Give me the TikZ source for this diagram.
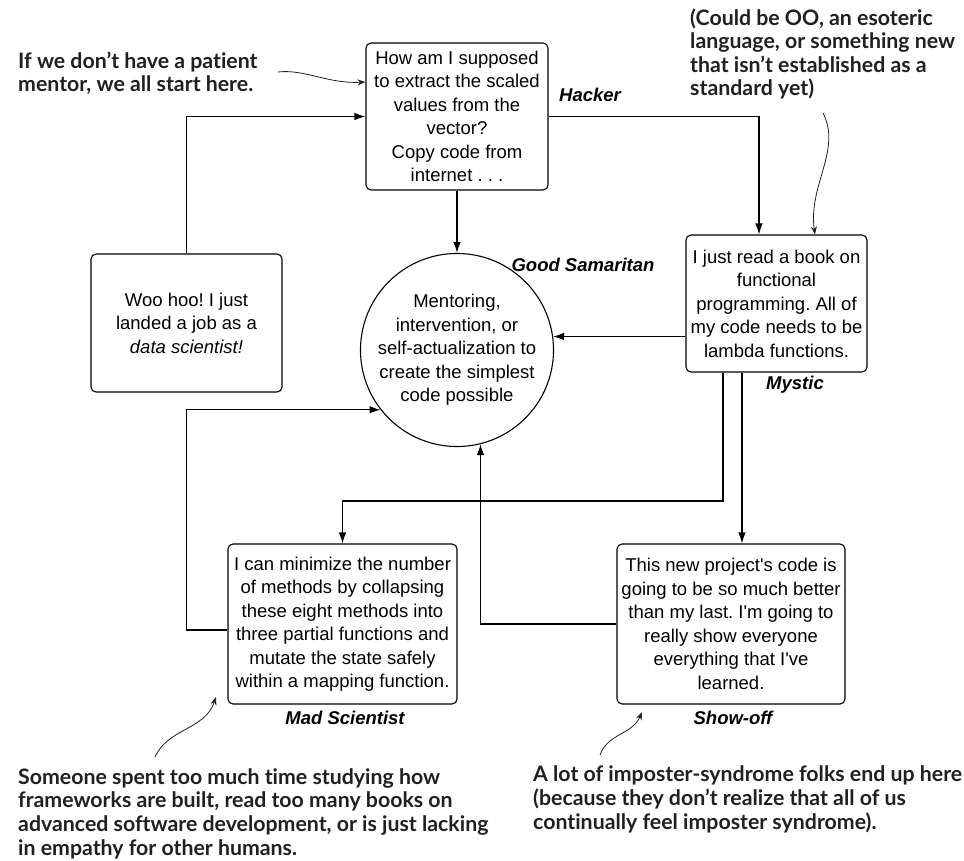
\documentclass[tikz,border=0pt]{standalone}
\usepackage{fontspec}
\setmainfont{Liberation Sans}
\newfontfamily\boxfont{Liberation Sans}
\newfontfamily\notefont[Ligatures={NoCommon,NoContextual}]{Lato}
\usetikzlibrary{arrows.meta,calc}
\definecolor{notegray}{HTML}{231F20}
\frenchspacing
\begin{document}
\begin{tikzpicture}[x=1pt,y=-1pt,
  box/.style={draw, line width=1.1pt, rounded corners=5pt, align=center,
    inner sep=0pt, font=\boxfont\fontsize{18.5}{23.5}\selectfont},
  role/.style={inner sep=0pt, font=\boxfont\fontsize{18.5}{22}\selectfont\bfseries\itshape},
  note/.style={inner sep=0pt, align=left, text=notegray,
    font=\notefont\bfseries\fontsize{21.3}{23.6}\selectfont},
  flow/.style={line width=1.1pt, -{Latex[length=11pt,width=7.5pt]}},
  pointer/.style={line width=0.8pt, draw=notegray, -{Stealth[length=8pt,width=6pt]}}]
\useasboundingbox (0,0) rectangle (964,861);

% stages of the journey
\node[box, minimum width=182pt, minimum height=147pt] (hacker) at (457,116.5)
  {How am I supposed\\to extract the scaled\\values from the\\vector?\\Copy code from\\internet . . .};
\node[box, minimum width=191pt, minimum height=138pt] (woo) at (186.5,323)
  {Woo hoo! I just\\landed a job as a\\\textit{data scientist!}};
\node[draw, circle, line width=1.1pt, minimum size=184pt, inner sep=0pt, align=center,
  font=\boxfont\fontsize{18.5}{23.5}\selectfont] (circ) at (457,350)
  {Mentoring,\\intervention, or\\self-actualization to\\create the simplest\\code possible};
\node[box, minimum width=181pt, minimum height=137pt] (mystic) at (776.5,303.5)
  {I just read a book on\\functional\\programming. All of\\my code needs to be\\lambda functions.};
\node[box, minimum width=229pt, minimum height=160pt] (mad) at (342.5,624)
  {I can minimize the number\\of methods by collapsing\\these eight methods into\\three partial functions and\\mutate the state safely\\within a mapping function.};
\node[box, minimum width=228pt, minimum height=160pt] (show) at (731,624)
  {This new project's code is\\going to be so much better\\than my last. I'm going to\\really show everyone\\everything that I've\\learned.};

% role names
\node[role] (lhacker) at (590,95) {Hacker};
\node[role] (lgood) at (583,265) {Good Samaritan};
\node[role] (lmystic) at (795,385) {Mystic};
\node[role] (lmad) at (345,718) {Mad Scientist};
\node[role] (lshow) at (733,718) {Show-off};

% transitions
\draw[flow] (woo.north) |- (hacker.west);
\draw[flow] (hacker.east) -| ([xshift=-17.5pt]mystic.north);
\draw[flow] (hacker.south) -- (circ.north);
\draw[flow] (circ.8 -| mystic.west) -- (circ.8);
\coordinate (split) at (723,501);
\draw[flow] ([xshift=-53.5pt]mystic.south) -- (split) -| (mad.north);
\draw[flow] ([xshift=-34.5pt]mystic.south) -- ([xshift=11pt]show.north);
\draw[flow] ([yshift=-6pt]mad.west) -| (woo.south |- circ.218) -- (circ.218);
\draw[flow] (show.west) -| (circ.-76);

% side notes (anchored at the baseline of their last line)
\node[note, anchor=base west] (ntl) at (18,92)
  {If we don’t have a patient\\mentor, we all start here.};
\node[note, anchor=base west] (ntr) at (690,96)
  {(Could be OO, an esoteric\\language, or something new\\that isn’t established as a\\standard yet)};
\node[note, anchor=base west] (nbl) at (18,855)
  {Someone spent too much time studying how\\frameworks are built, read too many books on\\advanced software development, or is just lacking\\in empathy for other humans.};
\node[note, anchor=base west] (nbr) at (533,829)
  {A lot of imposter-syndrome folks end up here\\(because they don’t realize that all of us\\continually feel imposter syndrome).};

\coordinate (ptl) at (278,72);
\coordinate (ptr) at (823,113);
\coordinate (pbl) at (155,757);
\coordinate (pbr) at (600,755);
\draw[pointer] (ptl) .. controls (305,69) and (328,84) .. ([yshift=34.5pt]hacker.west);
\draw[pointer] (ptr) .. controls (842,150) and (808,185) .. ([xshift=38.5pt]mystic.north);
\draw[pointer] (pbl) .. controls (168,728) and (205,730) .. (216,697);
\draw[pointer] (pbr) .. controls (608,733) and (632,735) .. (642,712);
\end{tikzpicture}
\end{document}
